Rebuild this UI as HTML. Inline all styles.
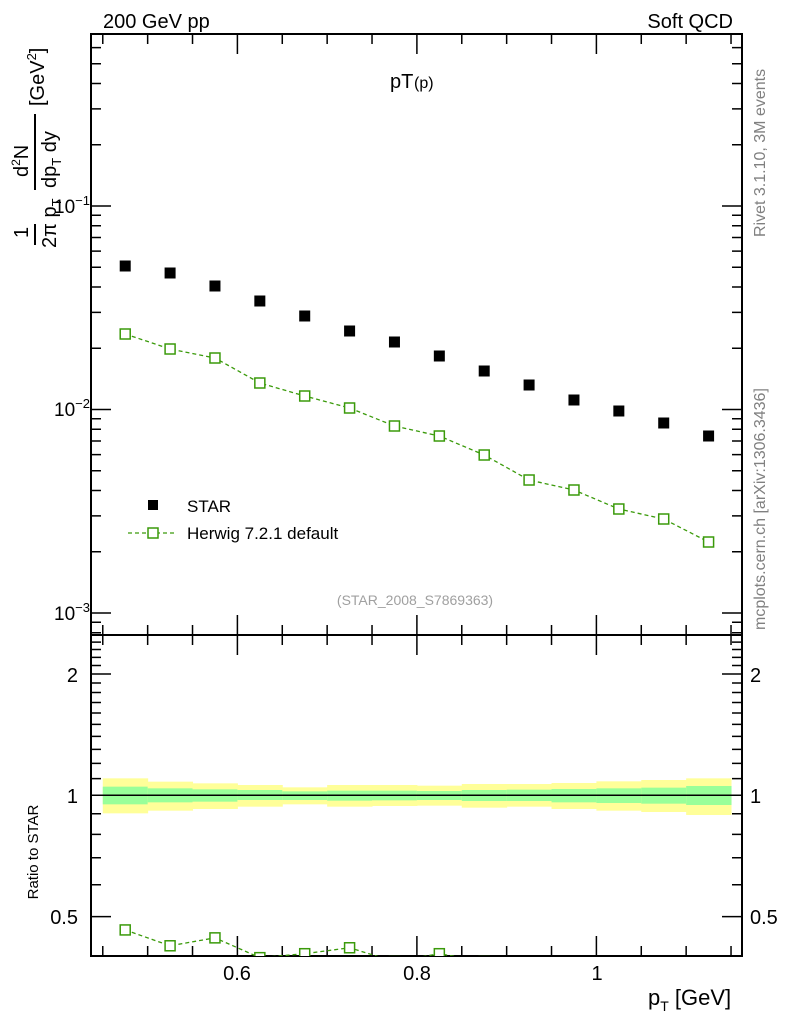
<!DOCTYPE html>
<html><head><meta charset="utf-8"><style>
html,body{margin:0;padding:0;background:#fff;}
svg{display:block;font-family:"Liberation Sans",sans-serif;}
</style></head><body>
<svg id="s" width="786" height="1024" viewBox="0 0 786 1024" xmlns="http://www.w3.org/2000/svg">
<defs>
<clipPath id="rc"><rect x="91" y="635" width="651" height="321"/></clipPath>
</defs>
<g id="bands"></g>
<line x1="91" y1="795.3" x2="742" y2="795.3" stroke="#000" stroke-width="1.5"/>
<g id="ticks" stroke="#000" stroke-width="1.5" fill="none"></g>
<rect x="91" y="34" width="651" height="601" fill="none" stroke="#000" stroke-width="2"/>
<rect x="91" y="635" width="651" height="321" fill="none" stroke="#000" stroke-width="2"/>
<g id="data"></g>
<text x="103" y="28" font-size="20">200 GeV pp</text>
<text x="733" y="28" font-size="20" text-anchor="end">Soft QCD</text>
<text x="390" y="88" font-size="20">pT</text><text x="414" y="88" font-size="16">(p)</text>
<text x="90" y="213" font-size="19" text-anchor="end">10<tspan dy="-8" font-size="13">−1</tspan></text>
<text x="90" y="416" font-size="19" text-anchor="end">10<tspan dy="-8" font-size="13">−2</tspan></text>
<text x="90" y="620" font-size="19" text-anchor="end">10<tspan dy="-8" font-size="13">−3</tspan></text>
<text x="78" y="682" font-size="20" text-anchor="end">2</text>
<text x="78" y="803" font-size="20" text-anchor="end">1</text>
<text x="78" y="924" font-size="20" text-anchor="end">0.5</text>
<text x="750" y="682" font-size="20">2</text>
<text x="750" y="803" font-size="20">1</text>
<text x="750" y="924" font-size="20">0.5</text>
<text x="237" y="980" font-size="20" text-anchor="middle">0.6</text>
<text x="417" y="980" font-size="20" text-anchor="middle">0.8</text>
<text x="597" y="980" font-size="20" text-anchor="middle">1</text>
<text x="648" y="1005" font-size="22">p<tspan dy="6" font-size="14">T</tspan><tspan dy="-6"> [GeV]</tspan></text>
<text transform="translate(38,852) rotate(-90)" font-size="15" text-anchor="middle">Ratio to STAR</text>
<g transform="translate(0,250) rotate(-90)" font-size="20">
<text x="12" y="28">1</text>
<line x1="5" y1="35" x2="26" y2="35" stroke="#000" stroke-width="2"/>
<text x="2" y="56">2π p<tspan dy="5" font-size="13">T</tspan></text>
<text x="73" y="28">d<tspan dy="-8" font-size="12">2</tspan><tspan dy="8">N</tspan></text>
<line x1="60" y1="35" x2="136" y2="35" stroke="#000" stroke-width="2"/>
<text x="62" y="56">dp<tspan dy="5" font-size="13">T</tspan><tspan dy="-5"> dy</tspan></text>
<text x="144" y="44">[GeV<tspan dy="-8" font-size="13">2</tspan><tspan dy="8">]</tspan></text>
</g>
<text transform="translate(765,237) rotate(-90)" font-size="16" fill="#808080">Rivet 3.1.10,  3M events</text>
<text transform="translate(765,630) rotate(-90)" font-size="16" fill="#808080">mcplots.cern.ch [arXiv:1306.3436]</text>
<text x="415" y="605" font-size="14" fill="#a0a0a0" text-anchor="middle">(STAR_2008_S7869363)</text>
<rect x="148" y="500" width="10" height="10" fill="#000"/>
<text x="187" y="512" font-size="17">STAR</text>
<line x1="128" y1="533" x2="176" y2="533" stroke="#3a9a0a" stroke-width="1.3" stroke-dasharray="4,3"/>
<rect x="148" y="528" width="10" height="10" fill="#fff" stroke="#3a9a0a" stroke-width="1.5"/>
<text x="187" y="539" font-size="17">Herwig 7.2.1 default</text>
</svg>
<script>
var NS="http://www.w3.org/2000/svg";
function el(p,t,a){var e=document.createElementNS(NS,t);for(var k in a)e.setAttribute(k,a[k]);document.getElementById(p).appendChild(e);return e;}
var d="";
function L(x1,y1,x2,y2){d+="M"+x1+" "+y1+"L"+x2+" "+y2;}
function ym(v){return 206-(Math.log10(v)+1)*203.5;}
for(var e=-4;e<=0;e++)for(var m=1;m<10;m++){var v=m*Math.pow(10,e);var y=ym(v);if(y<35||y>634)continue;var l=m==1?20:10;L(91,y,91+l,y);L(742,y,742-l,y);}
function xp(v){return 237.4+(v-0.6)*897.5;}
for(var i=9;i<=23;i++){var v=i*0.05;var x=xp(v);if(x<92||x>741)continue;var maj=(i%4==0);var l=maj?20:10;L(x,34,x,34+l);L(x,635,x,635-l);L(x,635,x,635+l);L(x,956,x,956-l);}
function yr(r){return 795.3-Math.log2(r)*121.3;}
var rv=[0.4,0.5,0.6,0.7,0.8,0.9,1,1.1,1.2,1.3,1.4,1.5,1.6,1.7,1.8,1.9,2,2.1,2.2,2.3,2.4];
rv.forEach(function(r){var y=yr(r);if(y<636||y>955)return;var maj=(r==0.5||r==1||r==2);var l=maj?20:10;L(91,y,91+l,y);L(742,y,742-l,y);});
el("ticks","path",{d:d});
var yb=[[535,640,560,613],[545,632,565,607],[550,627,568,605],[555,620,570,600],[562,613,574,600],[555,620,572,602],[555,618,572,601],[557,617,573,600],[552,623,570,603],[552,620,569,603],[549,627,567,607],[544,632,565,609],[540,636,563,611],[535,645,558,615]];
for(var i=0;i<14;i++){var x0=xp(0.45+0.05*i),x1=xp(0.5+0.05*i);var b=yb[i];
el("bands","rect",{x:x0,y:600+b[0]/3,width:x1-x0+0.5,height:(b[1]-b[0])/3,fill:"#ffff99"});
el("bands","rect",{x:x0,y:600+b[2]/3,width:x1-x0+0.5,height:(b[3]-b[2])/3,fill:"#99ff99"});}
var ys=[266,273,286,301,316,331,342,356,371,385,400,411,423,436];
var yh=[334,349,358,383,396,408,426,436,455,480,490,509,519,542];
var pts="",rpts="";
for(var i=0;i<14;i++){var x=xp(0.475+0.05*i);
el("data","rect",{x:x-5.5,y:ys[i]-5.5,width:11,height:11,fill:"#000"});
pts+=x+","+yh[i]+" ";rpts+=x+","+(795.3+(yh[i]-ys[i])*1.98)+" ";}
el("data","polyline",{points:pts,fill:"none",stroke:"#3a9a0a","stroke-width":1.3,"stroke-dasharray":"4,3"});
var g=el("data","g",{"clip-path":"url(#rc)"});
var pl=document.createElementNS(NS,"polyline");pl.setAttribute("points",rpts);pl.setAttribute("fill","none");pl.setAttribute("stroke","#3a9a0a");pl.setAttribute("stroke-width",1.3);pl.setAttribute("stroke-dasharray","4,3");g.appendChild(pl);
for(var i=0;i<14;i++){var x=xp(0.475+0.05*i);
el("data","rect",{x:x-5,y:yh[i]-5,width:10,height:10,fill:"#fff",stroke:"#3a9a0a","stroke-width":1.5});
var ry=795.3+(yh[i]-ys[i])*1.98;
var r=document.createElementNS(NS,"rect");r.setAttribute("x",x-5);r.setAttribute("y",ry-5);r.setAttribute("width",10);r.setAttribute("height",10);r.setAttribute("fill","#fff");r.setAttribute("stroke","#3a9a0a");r.setAttribute("stroke-width",1.5);g.appendChild(r);}
</script>
</body></html>
